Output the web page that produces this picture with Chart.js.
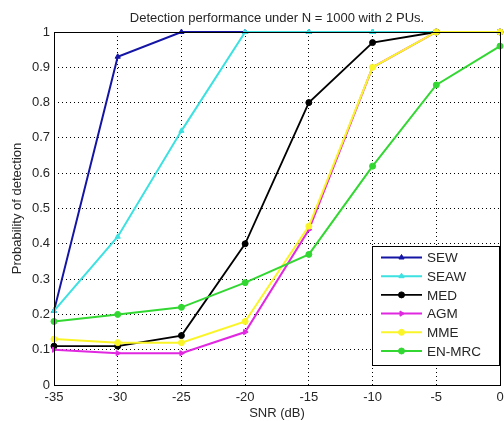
<!DOCTYPE html>
<html>
<head>
<meta charset="utf-8">
<script src="https://cdn.jsdelivr.net/npm/chart.js@4.4.1/dist/chart.umd.min.js"></script>
<style>
  html, body { margin: 0; padding: 0; background: #fff; }
  #wrap { width: 504px; height: 421px; }
</style>
</head>
<body>
<div id="wrap"><canvas id="pdChart" width="504" height="421"></canvas></div>
<script>
// Data dari gambar
const snrLabels = [-35, -30, -25, -20, -15, -10, -5, 0];
const sewValues = [0.21, 0.93, 1.00, 1.00, 1.00, 1.00, 1.00, 1.00];
const seawValues = [0.21, 0.42, 0.72, 1.00, 1.00, 1.00, 1.00, 1.00];
const medValues = [0.11, 0.11, 0.14, 0.40, 0.80, 0.97, 1.00, 1.00];
const agmValues = [0.10, 0.09, 0.09, 0.15, 0.44, 0.90, 1.00, 1.00];
const mmeValues = [0.13, 0.12, 0.12, 0.18, 0.45, 0.90, 1.00, 1.00];
const enmrcValues = [0.18, 0.20, 0.22, 0.29, 0.37, 0.62, 0.85, 0.96];
const yTicks = [0, 0.1, 0.2, 0.3, 0.4, 0.5, 0.6, 0.7, 0.8, 0.9, 1];
const chartTitle = 'Detection performance under N = 1000 with 2 PUs.';

const font = { family: 'Liberation Sans, Arial, sans-serif', size: 13 };
const textColor = '#262626';

function series(label, data, color, style, rot, order, width) {
    return {
        label: label,
        data: snrLabels.map((x, i) => ({ x: x, y: data[i] })),
        borderColor: color,
        backgroundColor: color,
        borderWidth: width,
        pointStyle: style,
        rotation: rot,
        pointRadius: 3,
        pointHoverRadius: 3,
        pointBorderWidth: 1,
        tension: 0,
        clip: 4,
        order: order
    };
}

// Judul di atas area plot, legend di dalam area plot, kotak sumbu
const boxLegend = {
    id: 'boxLegend',
    afterDraw(chart) {
        const ctx = chart.ctx;
        const a = chart.chartArea;
        ctx.save();
        ctx.strokeStyle = '#000';
        ctx.lineWidth = 1;
        ctx.strokeRect(Math.round(a.left) + 0.5, Math.round(a.top) + 0.5,
            Math.round(a.right - a.left), Math.round(a.bottom - a.top));

        ctx.fillStyle = textColor;
        ctx.font = '13px ' + font.family;
        ctx.textAlign = 'center';
        ctx.textBaseline = 'middle';
        ctx.fillText(chartTitle, (a.left + a.right) / 2, a.top - 14);

        const bx = a.right - 128, by = a.bottom - 139, bw = 127, bh = 119;
        ctx.fillStyle = '#fff';
        ctx.fillRect(bx, by, bw, bh);
        ctx.strokeRect(Math.round(bx) + 0.5, Math.round(by) + 0.5, bw, bh);

        chart.data.datasets.forEach((ds, i) => {
            const y = by + 11.5 + i * 18.7;
            ctx.strokeStyle = ds.borderColor;
            ctx.lineWidth = ds.borderWidth;
            ctx.beginPath();
            ctx.moveTo(bx + 9, y);
            ctx.lineTo(bx + 50, y);
            ctx.stroke();
            ctx.fillStyle = ds.backgroundColor;
            ctx.lineWidth = 1;
            Chart.helpers.drawPoint(ctx, {
                pointStyle: ds.pointStyle, rotation: ds.rotation || 0,
                radius: 3, borderWidth: 1
            }, bx + 29.5, y);
            ctx.fillStyle = textColor;
            ctx.font = '13.5px ' + font.family;
            ctx.textBaseline = 'middle';
            ctx.textAlign = 'left';
            ctx.fillText(ds.label, bx + 55, y + 1);
        });
        ctx.restore();
    }
};

const config = {
    type: 'line',
    data: {
        datasets: [
            series('SEW', sewValues, 'rgb(20, 20, 165)', 'triangle', 0, 6, 2),
            series('SEAW', seawValues, 'rgb(60, 225, 225)', 'triangle', 0, 5, 2),
            series('MED', medValues, 'rgb(0, 0, 0)', 'circle', 0, 4, 1.8),
            series('AGM', agmValues, 'rgb(225, 40, 225)', 'triangle', 90, 3, 2),
            series('MME', mmeValues, 'rgb(250, 245, 40)', 'circle', 0, 2, 2),
            series('EN-MRC', enmrcValues, 'rgb(50, 215, 50)', 'circle', 0, 1, 2)
        ]
    },
    options: {
        responsive: false,
        animation: false,
        events: [],
        layout: { padding: { left: 0, right: 3, top: 32, bottom: 0 } },
        plugins: {
            legend: { display: false },
            tooltip: { enabled: false },
            title: { display: false }
        },
        scales: {
            x: {
                type: 'linear',
                min: -35,
                max: 0,
                afterBuildTicks: s => { s.ticks = snrLabels.map(v => ({ value: v })); },
                afterFit: s => { s.height = 36; s.paddingLeft = 0; s.paddingRight = 0; },
                ticks: { color: textColor, font: font, padding: 5, maxRotation: 0 },
                grid: { color: '#000', lineWidth: 1, drawTicks: false },
                border: { display: false, dash: [1, 3] },
                title: {
                    display: true, text: 'SNR (dB)', color: textColor, font: font,
                    padding: { top: 0, bottom: 0 }
                }
            },
            y: {
                min: 0,
                max: 1,
                afterBuildTicks: s => { s.ticks = yTicks.map(v => ({ value: v })); },
                afterFit: s => { s.width = 54; s.paddingTop = 0; s.paddingBottom = 0; },
                ticks: { color: textColor, font: font, padding: 4, callback: v => String(v) },
                grid: { color: '#000', lineWidth: 1, drawTicks: false },
                border: { display: false, dash: [1, 3] },
                title: {
                    display: true, text: 'Probability of detection', color: textColor, font: font,
                    padding: { top: 10, bottom: 0 }
                }
            }
        }
    },
    plugins: [boxLegend]
};

const pdCtx = document.getElementById('pdChart').getContext('2d');
new Chart(pdCtx, config);
</script>
</body>
</html>
